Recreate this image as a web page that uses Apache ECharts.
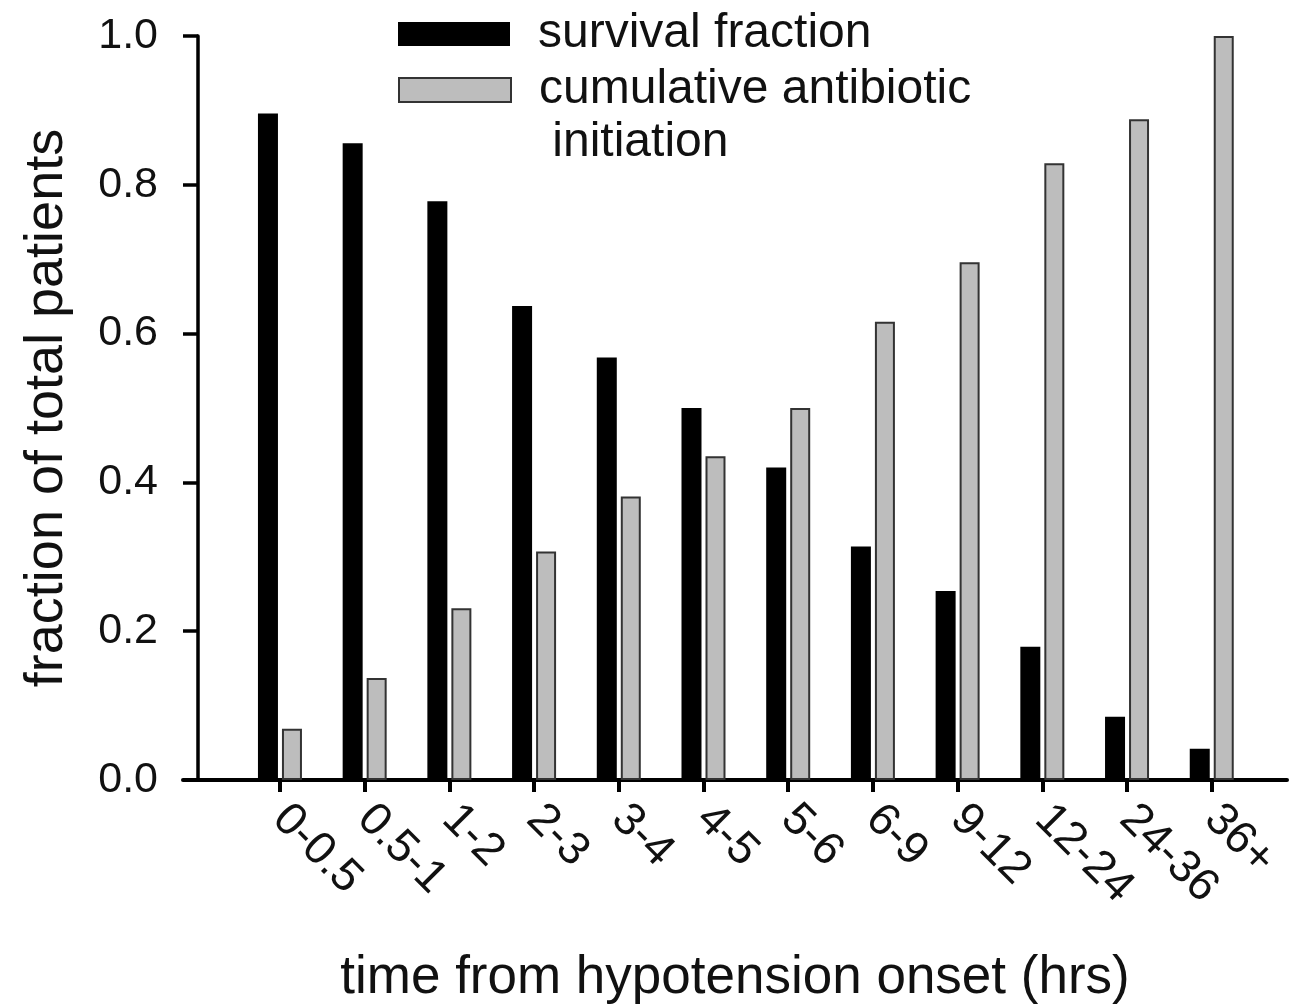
<!DOCTYPE html>
<html>
<head>
<meta charset="utf-8">
<script src="https://cdn.jsdelivr.net/npm/echarts@6/dist/echarts.min.js"></script>
<style>
html, body { margin: 0; padding: 0; background: #fff; }
#main { width: 1290px; height: 1005px; }
</style>
</head>
<body>
<div id="main"></div>
<script>
var categories = ['0-0.5', '0.5-1', '1-2', '2-3', '3-4', '4-5', '5-6', '6-9', '9-12', '12-24', '24-36', '36+'];
var survival = [0.896, 0.856, 0.778, 0.637, 0.568, 0.500, 0.420, 0.314, 0.254, 0.179, 0.085, 0.042];
var antibiotic = [0.069, 0.137, 0.231, 0.307, 0.381, 0.435, 0.500, 0.616, 0.696, 0.829, 0.888, 1.000];

var font = "'Liberation Sans', Arial, sans-serif";

var myChart = echarts.init(document.getElementById('main'));
myChart.setOption({
    animation: false,
    grid: [
        // full-width grid only for the long x axis line + title
        { left: 183, right: 3, top: 36, bottom: 225, outerBoundsMode: 'none' },
        // grid holding the bars
        { left: 237.6, width: 1016.5, top: 36, bottom: 225, outerBoundsMode: 'none' }
    ],
    legend: [
        {
            data: ['survival fraction'],
            icon: 'rect',
            left: 398, top: 7.5, padding: 0,
            itemWidth: 112, itemHeight: 24,
            textStyle: { fontFamily: font, fontSize: 48, color: '#111', lineHeight: 53, padding: [0, 0, 0, 23] }
        },
        {
            data: ['cumulative antibiotic initiation'],
            icon: 'rect',
            left: 398, top: 10.5, padding: 0,
            itemWidth: 112, itemHeight: 24,
            // empty first line keeps "cumulative antibiotic" level with the swatch
            formatter: function () { return '\ncumulative antibiotic\n initiation'; },
            textStyle: { fontFamily: font, fontSize: 48, color: '#111', lineHeight: 53, padding: [0, 0, 0, 23] }
        }
    ],
    xAxis: [
        {
            gridIndex: 0,
            type: 'value', min: 0, max: 1,
            axisLine: { show: true, lineStyle: { color: '#000', width: 4 } },
            axisTick: { show: false },
            axisLabel: { show: false },
            splitLine: { show: false },
            name: 'time from hypotension onset (hrs)',
            nameLocation: 'middle',
            nameGap: 172,
            nameTextStyle: { fontFamily: font, fontSize: 53, color: '#111' }
        },
        {
            gridIndex: 1,
            type: 'category',
            data: categories,
            axisLine: { show: false },
            axisTick: { show: true, alignWithLabel: true, length: 12, lineStyle: { color: '#000', width: 4 } },
            axisLabel: { rotate: -45, margin: 32, fontFamily: font, fontSize: 46, color: '#111', interval: 0 }
        }
    ],
    yAxis: [
        { gridIndex: 0, type: 'value', min: 0, max: 1, show: false },
        {
            gridIndex: 1,
            type: 'value', min: 0, max: 1, interval: 0.2,
            offset: 39.6,
            axisLine: { show: true, lineStyle: { color: '#000', width: 3.5 } },
            axisTick: { show: true, length: 15, lineStyle: { color: '#000', width: 3.5 } },
            axisLabel: {
                margin: 40, fontFamily: font, fontSize: 43, color: '#111',
                formatter: function (v) { return v.toFixed(1); }
            },
            splitLine: { show: false },
            name: 'fraction of total patients',
            nameLocation: 'middle',
            nameGap: 124,
            nameTextStyle: { fontFamily: font, fontSize: 54, color: '#111' }
        }
    ],
    series: [
        {
            name: 'survival fraction',
            type: 'bar',
            xAxisIndex: 1, yAxisIndex: 1,
            barWidth: 20,
            barGap: '20%',
            itemStyle: { color: '#000' },
            data: survival
        },
        {
            name: 'cumulative antibiotic initiation',
            type: 'bar',
            xAxisIndex: 1, yAxisIndex: 1,
            barWidth: 20,
            itemStyle: { color: '#bdbdbd', borderColor: '#333', borderWidth: 2 },
            data: antibiotic
        }
    ]
});
</script>
</body>
</html>
